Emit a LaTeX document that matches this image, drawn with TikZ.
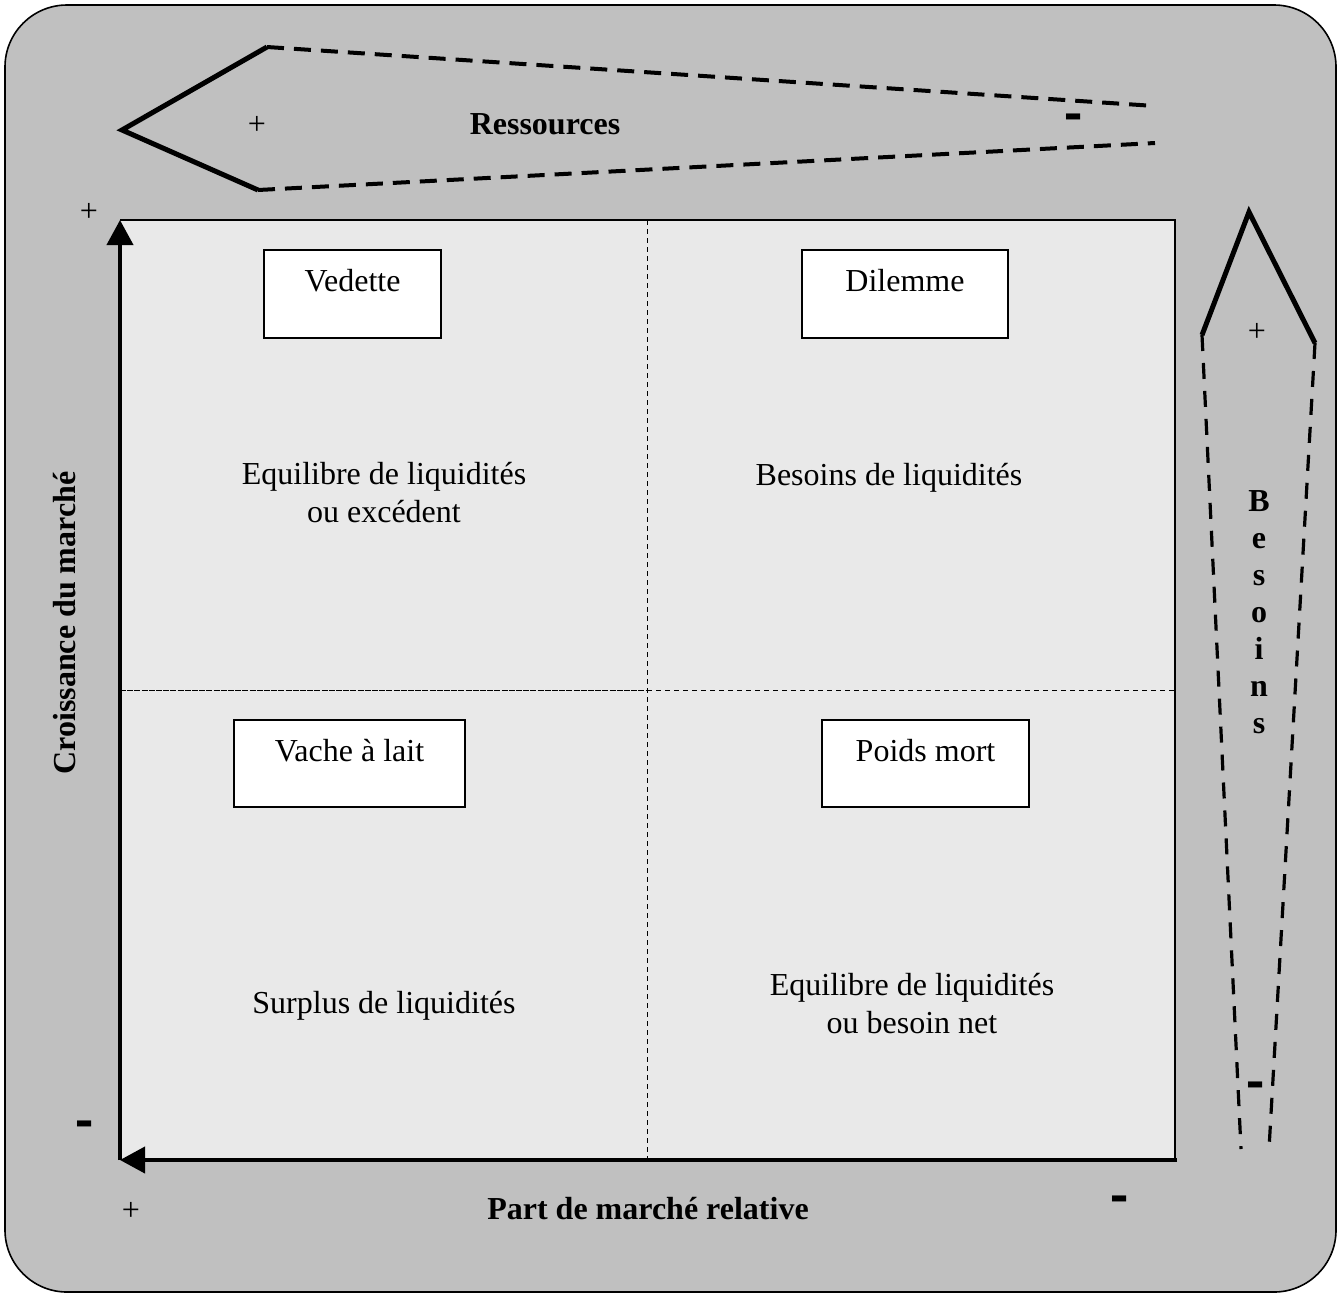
\documentclass[tikz,border=0pt]{standalone}
\usepackage{fontspec}
\setmainfont{Liberation Serif}
\usetikzlibrary{arrows.meta}
\begin{document}
\begin{tikzpicture}[x=0.5pt,y=-0.5pt,
  every node/.style={font=\fontsize{16}{19}\selectfont, inner sep=0pt},
  bold/.style={font=\fontsize{16}{19}\selectfont\bfseries},
  solidarm/.style={line width=2.5pt, line cap=butt, line join=miter},
  dasharm/.style={line width=2pt, dash pattern=on 8.5pt off 5pt},
  dasharmv/.style={line width=1.6pt, dash pattern=on 8pt off 6pt},
  divider/.style={line width=0.5pt, dash pattern=on 2.5pt off 2pt},
  dividerdense/.style={line width=0.5pt, dash pattern=on 3pt off 0.6pt},
  axis/.style={line width=2pt, -{Triangle[length=12.5pt,width=13pt]}},
  qbox/.style={draw=black, fill=white, line width=0.6pt},
]
\useasboundingbox (0,0) rectangle (1339,1297);
\newcommand{\mybar}{\scalebox{1.7}[2.2]{\textbf{-}}}
% background
\draw[fill={rgb,255:red,192;green,192;blue,192}, line width=0.8pt, rounded corners=31pt] (5,5) rectangle (1336,1292);
% matrix area
\fill[fill={rgb,255:red,233;green,233;blue,233}] (120,220) rectangle (1175,1160);
\coordinate (O) at (120,1160);
\coordinate (TL) at (120,220);
\coordinate (TR) at (1175,220);
\coordinate (BR) at (1177,1160);
\draw[line width=0.9pt] (TL) -- (TR) -- (1175,1160);
% dividers
\coordinate (vtop) at (647,220);
\coordinate (vbot) at (647,1160);
\coordinate (hl) at (120,690);
\coordinate (hm) at (647,690);
\coordinate (hr) at (1175,690);
\draw[divider] (vtop) -- (vbot);
\draw[dividerdense] (hl) -- (hm);
\draw[divider] (hm) -- (hr);
% axes
\draw[axis] (O) -- (TL);
\draw[axis] (BR) -- (O);
% top arrow (Ressources)
\coordinate (rtip) at (122,130);
\coordinate (rtop) at (267,47);
\coordinate (rbot) at (258,190);
\coordinate (rtopend) at (1155,106);
\coordinate (rbotend) at (1155,143);
\draw[solidarm] (rtop) -- (rtip) -- (rbot);
\draw[dasharm] (rtop) -- (rtopend);
\draw[dasharm] (rbot) -- (rbotend);
\node (rplus) at (257,125) {+};
\node[bold] (ress) at (545,124) {Ressources};
\node (rminus) at (1074,124) {\mybar};
% right arrow (Besoins)
\coordinate (btip) at (1249,212);
\coordinate (bleft) at (1202,335);
\coordinate (bright) at (1315,343);
\coordinate (bleftend) at (1241,1149);
\coordinate (brightend) at (1269,1149);
\draw[solidarm] (bleft) -- (btip) -- (bright);
\draw[dasharmv] (bleft) -- (bleftend);
\draw[dasharmv] (bright) -- (brightend);
\node (bplus) at (1257,332) {+};
\node[align=center, font=\fontsize{16}{18.5}\selectfont\bfseries] (bes) at (1259,612) {B\\e\\s\\o\\i\\n\\s};
\node (bminus) at (1256,1092) {\mybar};
% axis labels
\node[bold, rotate=90] (ylab) at (65,623) {Croissance du march\'e};
\node[bold] (xlab) at (648,1209) {Part de march\'e relative};
\node (yplus) at (89,212) {+};
\node (yminus) at (85,1131) {\mybar};
\node (xplus) at (131,1211) {+};
\node (xminus) at (1120,1206) {\mybar};
% quadrant boxes
\draw[qbox] (264,250) rectangle (441,338);
\node (vedette) at (352.5,281) {Vedette};
\draw[qbox] (802,250) rectangle (1008,338);
\node (dilemme) at (905,281) {Dilemme};
\draw[qbox] (234,720) rectangle (465,807);
\node (vache) at (349.5,751) {Vache \`a lait};
\draw[qbox] (822,720) rectangle (1029,807);
\node (poids) at (925.5,751) {Poids mort};
% quadrant texts
\node[align=center] (q1) at (384,493) {Equilibre de liquidit\'es\\ou exc\'edent};
\node (q2) at (889,478) {Besoins de liquidit\'es};
\node (q3) at (384,1006) {Surplus de liquidit\'es};
\node[align=center] (q4) at (912,1004) {Equilibre de liquidit\'es\\ou besoin net};
\end{tikzpicture}
\end{document}
